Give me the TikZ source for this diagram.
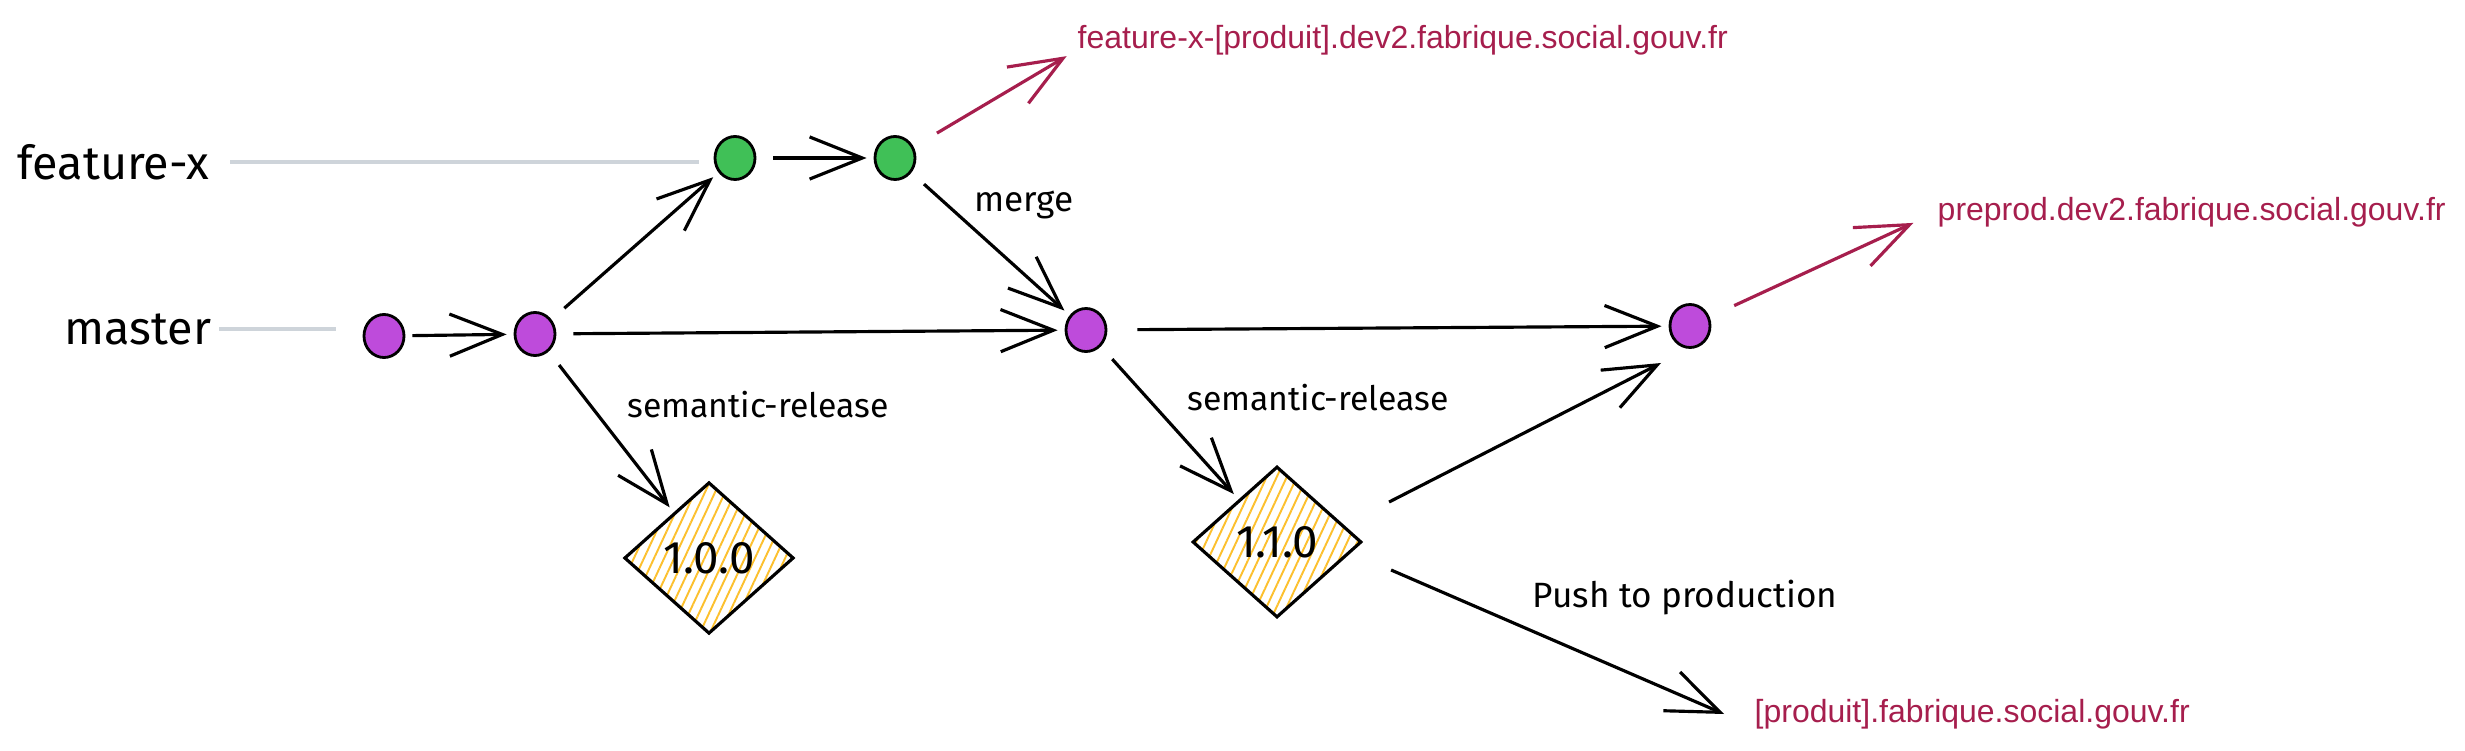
\documentclass[tikz,border=0pt]{standalone}
\usepackage{fontspec}
\setmainfont{Fira Sans}
\newfontfamily\urlfont{Liberation Sans}
\usetikzlibrary{arrows.meta,shapes.geometric,patterns.meta}
\definecolor{grape}{HTML}{BE4BDB}
\definecolor{leaf}{HTML}{40C057}
\definecolor{hachure}{HTML}{FCC02E}
\definecolor{urlred}{HTML}{A61E4D}
\definecolor{lightline}{HTML}{CED4DA}

\begin{document}
\begin{tikzpicture}[
  >={Straight Barb[length=15pt,width=12pt]},
  commit/.style={ellipse,draw=black,line width=0.8pt,minimum width=0.4cm,minimum height=0.43cm,inner sep=0pt},
  release/.style={diamond,draw=black,line width=0.9pt,minimum width=1.69cm,minimum height=1.51cm,inner sep=0pt,
    pattern={Lines[angle=65,distance=2.6pt,line width=0.55pt]},pattern color=hachure,font=\fontsize{13}{15}\selectfont},
  branch/.style={anchor=east,inner sep=0pt,font=\fontsize{13.3}{16}\selectfont},
  note/.style={inner sep=0pt,font=\fontsize{10}{12}\selectfont},
  url/.style={anchor=west,inner sep=0pt,text=urlred,font=\urlfont\fontsize{9.1}{11}\selectfont},
  arr/.style={->,line width=0.9pt,shorten <=0.17cm,shorten >=0.07cm},
  urlarr/.style={->,draw=urlred,line width=0.9pt,shorten <=0.27cm,shorten >=0.12cm},
  track/.style={draw=lightline,line width=1.3pt}
]
\useasboundingbox (0,0) rectangle (24.65,7.5);
% commits
\node[commit,fill=grape] (m1) at (3.84,4.14) {};
\node[commit,fill=grape] (m2) at (5.35,4.16) {};
\node[commit,fill=leaf] (f1) at (7.35,5.92) {};
\node[commit,fill=leaf] (f2) at (8.95,5.92) {};
\node[commit,fill=grape] (mg) at (10.86,4.20) {};
\node[commit,fill=grape] (pp) at (16.90,4.24) {};
% releases
\node[release] (v100) at (7.09,1.92) {1.0.0};
\node[release] (v110) at (12.77,2.08) {1.1.0};
% branches
\node[branch] (fx) at (2.10,5.88) {feature-x};
\node[branch] (ms) at (2.12,4.21) {master};
\draw[track,shorten <=0.2cm,shorten >=0.15cm] (fx.east) -- (fx.east -| f1.west);
\draw[track,shorten <=0.07cm,shorten >=0.27cm] (ms.east) -- (ms.east -| m1.west);
% labels
\node[note] (lmerge) at (10.24,5.45) {merge};
\node[note,font=\fontsize{9.6}{12}\selectfont] (lsr1) at (7.58,3.45) {semantic-release};
\node[note,font=\fontsize{9.6}{12}\selectfont] (lsr2) at (13.18,3.52) {semantic-release};
\node[note] (lpush) at (16.85,1.52) {Push to production};
% urls
\node[url] (u1) at (10.77,7.10) {feature-x-[produit].dev2.fabrique.social.gouv.fr};
\node[url] (u2) at (19.37,5.38) {preprod.dev2.fabrique.social.gouv.fr};
\node[url] (u3) at (17.54,0.36) {[produit].fabrique.social.gouv.fr};
% history
\draw[arr,shorten <=0.07cm] (m1) -- (m2);
\draw[arr] (m2) -- (f1);
\draw[arr] (f1) -- (f2);
\draw[arr] (f2) -- (mg);
\draw[arr] (m2) -- (mg);
\draw[arr,shorten <=0.3cm] (mg) -- (pp);
\draw[arr] (m2) -- (v100);
\draw[arr] (mg) -- (v110);
\draw[arr,shorten <=0pt,shorten >=0pt] ([shift={(0.26,0.40)}]v110.east) -- ([shift={(-0.29,-0.37)}]pp.center);
\draw[arr,shorten <=0pt,shorten >=0pt] ([shift={(0.28,-0.28)}]v110.east) -- ([xshift=-0.30cm]u3.west);
% deployments
\draw[urlarr] (f2) -- ([yshift=-0.1cm]u1.west);
\draw[urlarr,shorten >=0.26cm] (pp) -- (u2.west);
\end{tikzpicture}
\end{document}
